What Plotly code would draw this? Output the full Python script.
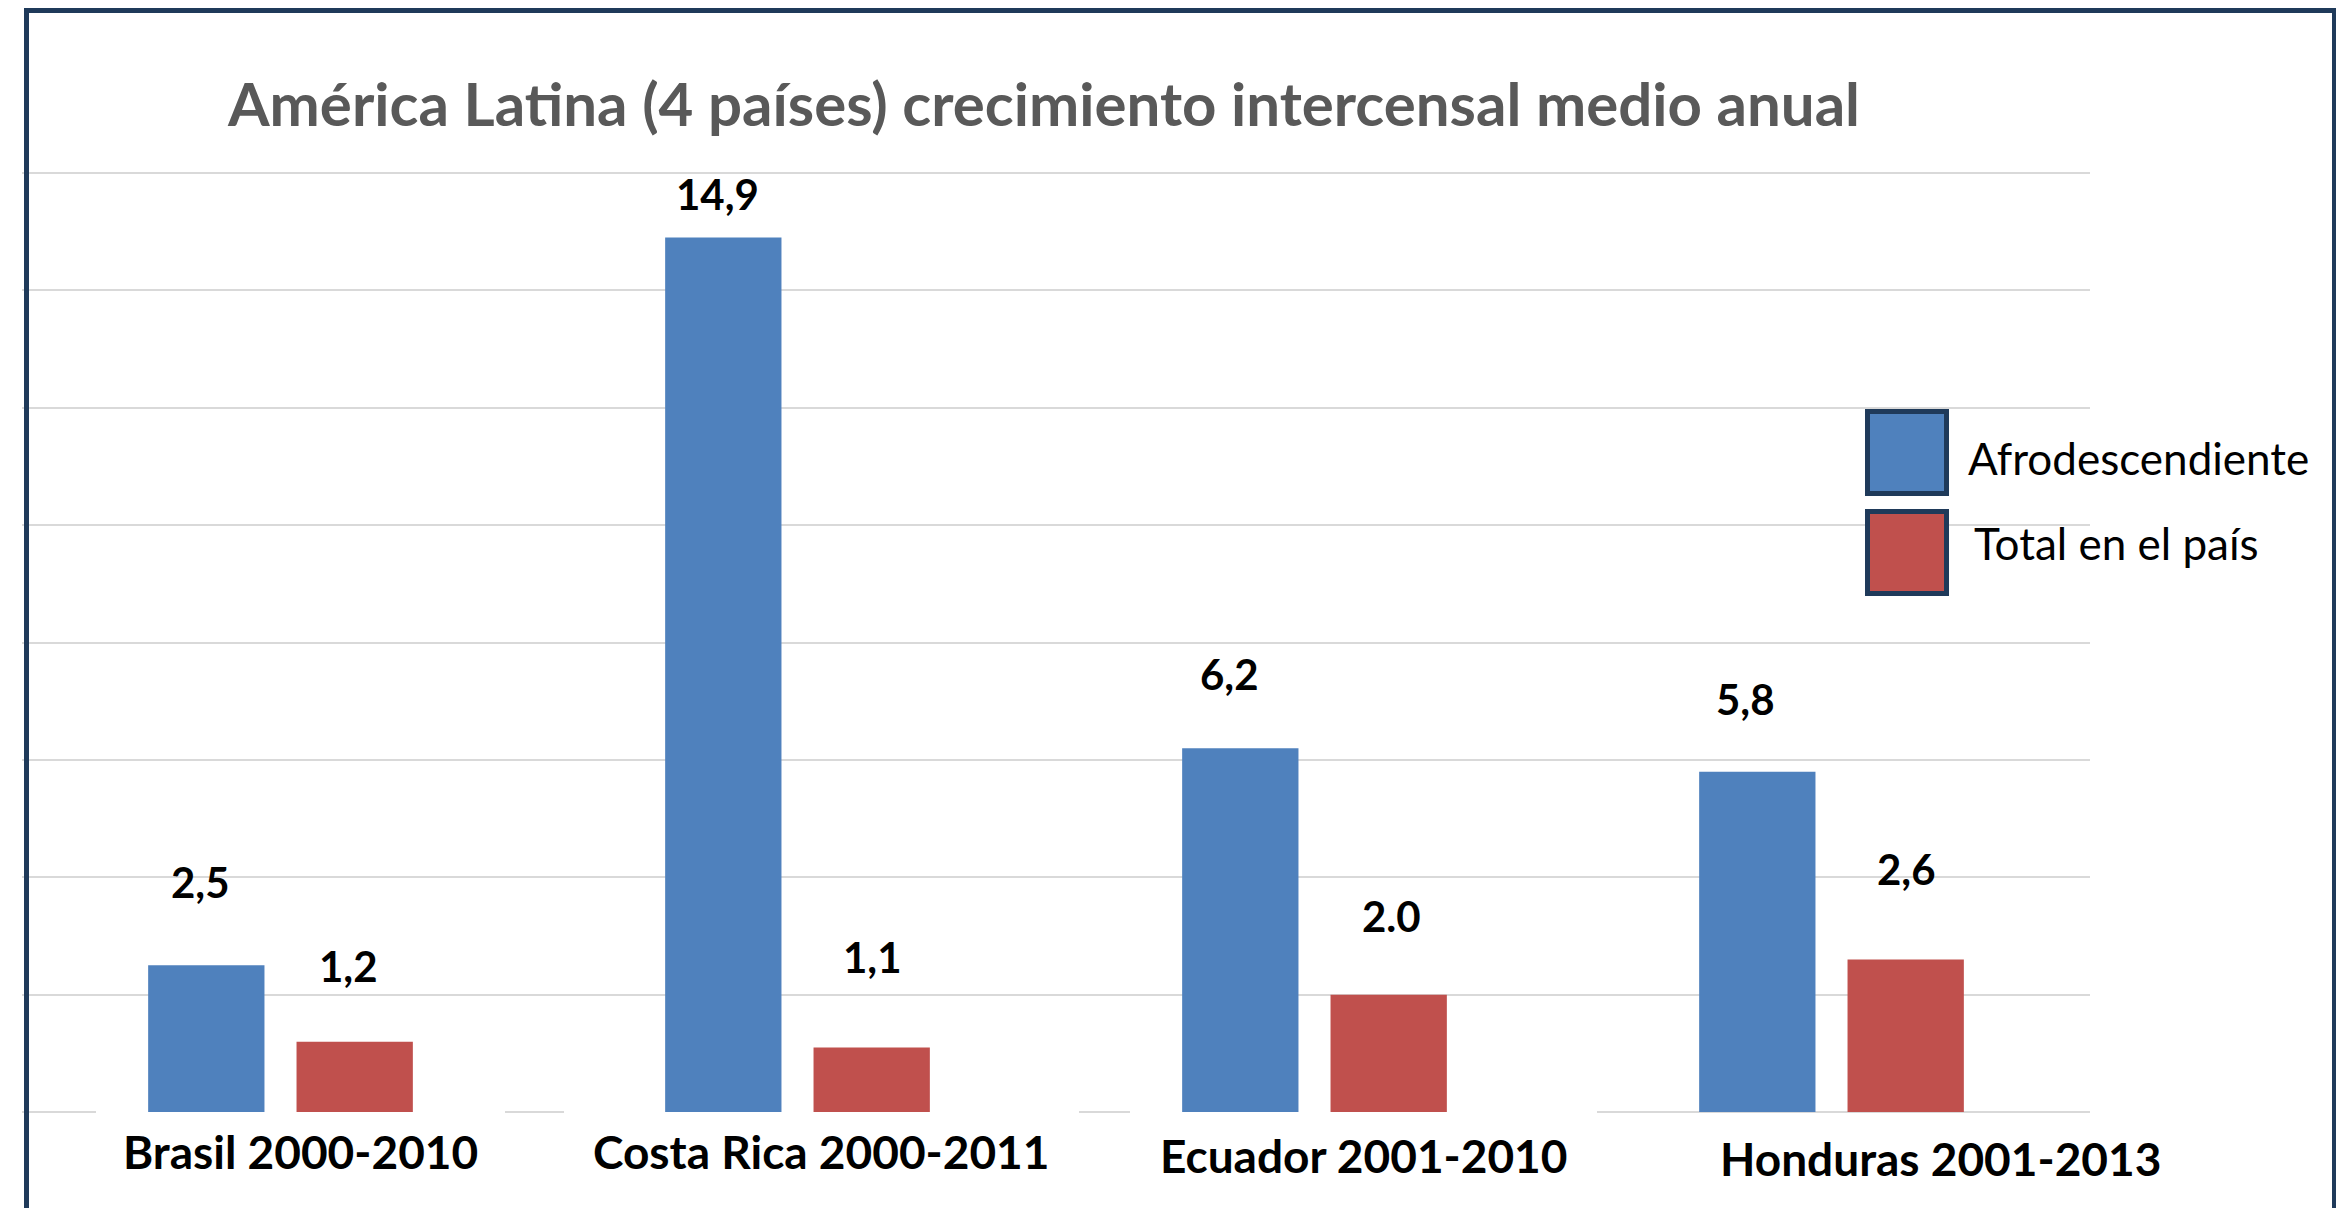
import plotly.graph_objects as go

# ---- data ----
categories = ["Brasil 2000-2010", "Costa Rica 2000-2011", "Ecuador 2001-2010", "Honduras 2001-2013"]
afro_values = [2.5, 14.9, 6.2, 5.8]
total_values = [1.2, 1.1, 2.0, 2.6]
afro_labels = ["2,5", "14,9", "6,2", "5,8"]
total_labels = ["1,2", "1,1", "2.0", "2,6"]
series_names = ["Afrodescendiente", "Total en el país"]
title_text = "América Latina (4 países) crecimiento intercensal medio anual"

# ---- layout constants (pixels, screenshot frame) ----
OFF = 8  # page body margin
W, H = 2344, 1208
PLOT_L, PLOT_R, PLOT_T, PLOT_B = 22, 2090, 170, 1115
ML, MT = PLOT_L - OFF, PLOT_T - OFF
MR, MB = W - (PLOT_R - OFF), H - (PLOT_B - OFF)
PW, PH = PLOT_R - PLOT_L, PLOT_B - PLOT_T
BLUE, RED = "#4F81BD", "#C0504D"
NAVY = "#1F3A5A"
FONT = "Lato"

def px_x(p):  # screenshot pixel -> paper x
    return (p - PLOT_L) / PW

def px_y(p):  # screenshot pixel -> paper y
    return (PLOT_B - p) / PH

def px_dx(p):  # screenshot pixel -> data x (category index)
    return (p - PLOT_L) / (PW / 4) - 0.5

# label offsets (pixels) relative to category centre / bar top
afro_dx = [-80, -80, -85, -86]
afro_dy = [83, 44, 74, 73]
total_dx = [68, 75, 77, 75]
total_dy = [76, 91, 79, 90]
cat_label_dx = [20, 23, 49, 109]
cat_label_dy = [-39, -39, -43, -46]
cover_spans = [(96, 505), (564, 1079), (1130, 1597)]

fig = go.Figure()
fig.add_trace(go.Bar(x=categories, y=afro_values, name=series_names[0],
                     marker=dict(color=BLUE, line=dict(width=0)),
                     width=0.225, offset=-0.256))
fig.add_trace(go.Bar(x=categories, y=total_values, name=series_names[1],
                     marker=dict(color=RED, line=dict(width=0)),
                     width=0.225, offset=0.031))

annotations = []
for i, c in enumerate(categories):
    annotations.append(dict(x=c, y=afro_values[i], xref="x", yref="y", text=afro_labels[i],
                            showarrow=False, xshift=afro_dx[i], yshift=afro_dy[i],
                            xanchor="center", yanchor="middle",
                            font=dict(family=FONT, size=42, color="#000000", weight="bold")))
    annotations.append(dict(x=c, y=total_values[i], xref="x", yref="y", text=total_labels[i],
                            showarrow=False, xshift=total_dx[i], yshift=total_dy[i],
                            xanchor="center", yanchor="middle",
                            font=dict(family=FONT, size=42, color="#000000", weight="bold")))
    annotations.append(dict(x=c, y=0, xref="x", yref="y", text=c,
                            showarrow=False, xshift=cat_label_dx[i], yshift=cat_label_dy[i],
                            xanchor="center", yanchor="middle",
                            font=dict(family=FONT, size=46, color="#000000", weight="bold")))

# title
annotations.append(dict(x=px_x(1043), y=px_y(103), xref="paper", yref="paper", text=title_text,
                        showarrow=False, xanchor="center", yanchor="middle",
                        font=dict(family=FONT, size=60, color="#595959", weight="bold")))
# legend texts
annotations.append(dict(x=px_x(1966), y=px_y(458), xref="paper", yref="paper", text=series_names[0],
                        showarrow=False, xanchor="left", yanchor="middle",
                        font=dict(family=FONT, size=44, color="#000000")))
annotations.append(dict(x=px_x(1972), y=px_y(543), xref="paper", yref="paper", text=series_names[1],
                        showarrow=False, xanchor="left", yanchor="middle",
                        font=dict(family=FONT, size=44, color="#000000")))

shapes = []
# white covers hiding the baseline behind the category text boxes
for a, b in cover_spans:
    shapes.append(dict(type="rect", xref="x", yref="y", x0=px_dx(a), x1=px_dx(b),
                       y0=-0.05, y1=0.045, fillcolor="white", line=dict(width=0), layer="between"))
# legend swatches
shapes.append(dict(type="rect", xref="paper", yref="paper", x0=px_x(1867.5), x1=px_x(1946.5),
                   y0=px_y(493.5), y1=px_y(411.5), fillcolor=BLUE, line=dict(color=NAVY, width=5)))
shapes.append(dict(type="rect", xref="paper", yref="paper", x0=px_x(1867.5), x1=px_x(1946.5),
                   y0=px_y(593.5), y1=px_y(511.5), fillcolor=RED, line=dict(color=NAVY, width=5)))
# outer frame
shapes.append(dict(type="rect", xref="paper", yref="paper", x0=px_x(26.5), x1=px_x(2334.5),
                   y0=px_y(1240), y1=px_y(10.5), fillcolor="rgba(0,0,0,0)",
                   line=dict(color=NAVY, width=5), layer="above"))

fig.update_layout(
    width=W, height=H,
    margin=dict(l=ML, r=MR, t=MT, b=MB, pad=0),
    paper_bgcolor="white", plot_bgcolor="white",
    barmode="overlay", showlegend=False,
    xaxis=dict(type="category", range=[-0.5, 3.5], showticklabels=False, showgrid=False,
               zeroline=False, showline=False, ticks=""),
    yaxis=dict(range=[-0.05, 16.05], tick0=0, dtick=2, showticklabels=False, showgrid=True,
               gridcolor="#D9D9D9", gridwidth=2, zeroline=False, showline=False, ticks=""),
    annotations=annotations, shapes=shapes,
)

fig.write_html("out.html")
